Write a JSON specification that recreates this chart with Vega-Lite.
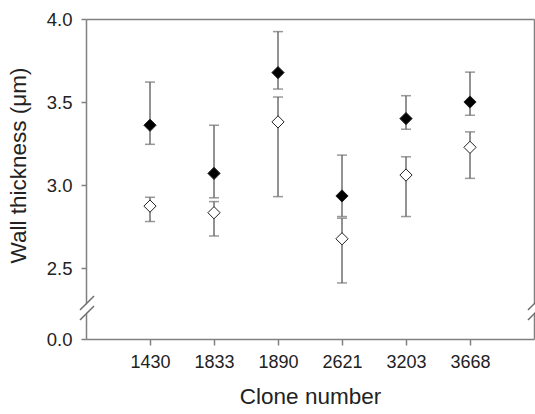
{
  "$schema": "https://vega.github.io/schema/vega-lite/v6.json",
  "autosize": {"type": "none"},
  "width": 448,
  "height": 320,
  "padding": {"left": 86, "top": 19, "right": 1, "bottom": 75},
  "background": "white",
  "config": {
    "view": {"stroke": null},
    "font": "Liberation Sans",
    "axis": {"grid": false, "labelFont": "Liberation Sans", "titleFont": "Liberation Sans", "domainColor": "#808080", "domainWidth": 1.5, "tickColor": "#808080", "tickWidth": 1.5, "labelColor": "#222222", "titleColor": "#222222", "titleFontWeight": "normal"}
  },
  "datasets": {
    "stats": [
      {"clone": "1430", "group": "filled", "mean": 3.36, "lo": 3.245, "hi": 3.62},
      {"clone": "1833", "group": "filled", "mean": 3.07, "lo": 2.923, "hi": 3.36},
      {"clone": "1890", "group": "filled", "mean": 3.677, "lo": 3.578, "hi": 3.924},
      {"clone": "2621", "group": "filled", "mean": 2.934, "lo": 2.81, "hi": 3.18},
      {"clone": "3203", "group": "filled", "mean": 3.40, "lo": 3.336, "hi": 3.538},
      {"clone": "3668", "group": "filled", "mean": 3.50, "lo": 3.42, "hi": 3.68},
      {"clone": "1430", "group": "open", "mean": 2.873, "lo": 2.78, "hi": 2.926},
      {"clone": "1833", "group": "open", "mean": 2.833, "lo": 2.693, "hi": 2.90},
      {"clone": "1890", "group": "open", "mean": 3.38, "lo": 2.93, "hi": 3.53},
      {"clone": "2621", "group": "open", "mean": 2.676, "lo": 2.41, "hi": 2.80},
      {"clone": "3203", "group": "open", "mean": 3.06, "lo": 2.81, "hi": 3.17},
      {"clone": "3668", "group": "open", "mean": 3.227, "lo": 3.04, "hi": 3.32}
    ],
    "breaks": [
      {"kind": "cover", "x1": -0.0134, "y1": 1.831, "x2": 0.0179, "y2": 2.301},
      {"kind": "slash", "x1": -0.0134, "y1": 2.212, "x2": 0.0179, "y2": 2.331},
      {"kind": "slash", "x1": -0.0134, "y1": 1.449, "x2": 0.0179, "y2": 2.271},
      {"kind": "cover", "x1": 0.9866, "y1": 1.831, "x2": 1.0179, "y2": 2.301},
      {"kind": "slash", "x1": 0.9866, "y1": 2.212, "x2": 1.0179, "y2": 2.331},
      {"kind": "slash", "x1": 0.9866, "y1": 1.449, "x2": 1.0179, "y2": 2.271}
    ]
  },
  "resolve": {"scale": {"x": "independent", "y": "independent"}, "axis": {"x": "independent", "y": "independent"}},
  "layer": [
    {
      "data": {"name": "stats"},
      "encoding": {
        "x": {"field": "clone", "type": "ordinal", "scale": {"type": "point", "padding": 1},
              "axis": {"title": "Clone number", "labelAngle": 0, "labelFont": "Liberation Sans", "titleFont": "Liberation Sans", "labelFontSize": 18, "titleFontSize": 22.5, "tickSize": 6, "labelPadding": 8, "titlePadding": 14, "domain": true}}
      },
      "layer": [
        {
          "mark": {"type": "rule", "color": "#6e6e6e", "strokeWidth": 1.5},
          "encoding": {
            "y": {"field": "lo", "type": "quantitative", "scale": {"domain": [0, 2.25, 4], "range": [320, 290.5, 0], "nice": false, "zero": false},
                  "axis": {"title": "Wall thickness (μm)", "values": [0, 2.5, 3, 3.5, 4], "format": ".1f", "labelFont": "Liberation Sans", "titleFont": "Liberation Sans", "labelFontSize": 18.5, "titleFontSize": 22.5, "tickSize": 5, "labelPadding": 9, "titleX": -56, "titleY": 146, "titleAlign": "center", "domain": true}},
            "y2": {"field": "hi"}
          }
        },
        {
          "mark": {"type": "tick", "color": "#6e6e6e", "thickness": 1.5, "size": 10, "orient": "horizontal"},
          "encoding": {"y": {"field": "lo", "type": "quantitative"}}
        },
        {
          "mark": {"type": "tick", "color": "#6e6e6e", "thickness": 1.5, "size": 10, "orient": "horizontal"},
          "encoding": {"y": {"field": "hi", "type": "quantitative"}}
        },
        {
          "mark": {"type": "point", "shape": "diamond", "size": 150, "filled": true, "opacity": 1, "stroke": "#222222", "strokeWidth": 1},
          "encoding": {
            "y": {"field": "mean", "type": "quantitative"},
            "fill": {"field": "group", "type": "nominal", "scale": {"domain": ["filled", "open"], "range": ["#000000", "#ffffff"]}, "legend": null}
          }
        }
      ]
    },
    {
      "data": {"name": "breaks"},
      "encoding": {
        "x": {"field": "x1", "type": "quantitative", "scale": {"domain": [0, 1], "nice": false, "zero": false},
              "axis": {"orient": "top", "title": null, "labels": false, "ticks": false, "domain": true}},
        "x2": {"field": "x2"},
        "y": {"field": "y1", "type": "quantitative", "scale": {"domain": [0, 2.25, 4], "range": [320, 290.5, 0], "nice": false, "zero": false},
              "axis": {"orient": "right", "title": null, "labels": false, "ticks": false, "domain": true}},
        "y2": {"field": "y2"}
      },
      "layer": [
        {
          "transform": [{"filter": "datum.kind === 'cover'"}],
          "mark": {"type": "rule", "color": "white", "strokeWidth": 6}
        },
        {
          "transform": [{"filter": "datum.kind === 'slash'"}],
          "mark": {"type": "rule", "color": "#6e6e6e", "strokeWidth": 1.5}
        }
      ]
    }
  ]
}
